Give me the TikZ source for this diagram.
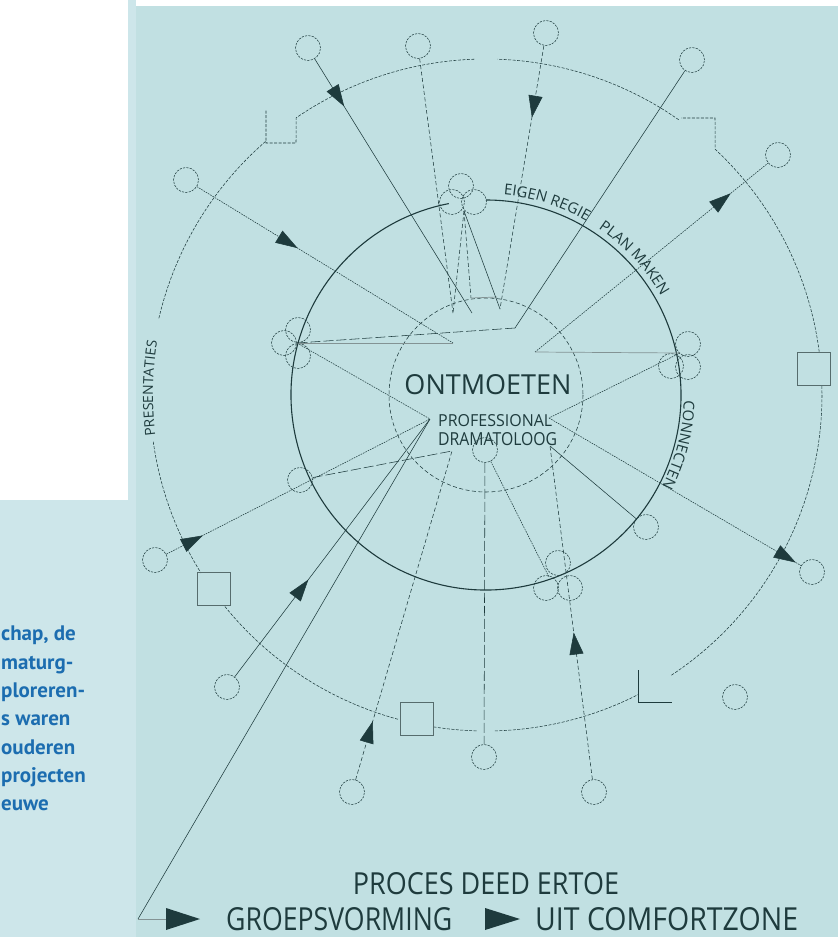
\documentclass[tikz,border=0pt]{standalone}
\usepackage{fontspec}
\usepackage{graphicx}
\setmainfont{Open Sans}
\newfontfamily\sidefont{PT Sans}
\usetikzlibrary{calc,arrows.meta,decorations.markings,decorations.text}
\definecolor{panel}{HTML}{C1E0E2}
\definecolor{strip}{HTML}{CDE6EA}
\definecolor{ink}{HTML}{1E3B3D}
\definecolor{sideblue}{HTML}{1C6DB0}
\tikzset{
  ln/.style={draw=ink, line width=0.55pt},
  dsh/.style={ln, dash pattern=on 4pt off 2.5pt},
  dtt/.style={ln, dash pattern=on 1.6pt off 1pt},
  lds/.style={ln, dash pattern=on 10pt off 3pt},
  gry/.style={draw=ink!55, line width=0.7pt},
  sc/.style={circle, draw=ink, dash pattern=on 2.2pt off 1.2pt, line width=0.55pt, minimum size=25pt, inner sep=0pt},
  sq/.style={draw=ink!75, line width=0.6pt, minimum size=33pt, inner sep=0pt},
  fwd/.style={postaction={decorate}, decoration={markings, mark=at position #1 with {\arrow[ink]{Triangle[length=22pt,width=14pt]}}}},
  caps/.style={inner sep=0pt, text=ink}
}
\begin{document}
\begin{tikzpicture}[x=1pt,y=-1pt]
\clip (0,0) rectangle (838,937);
% background
\fill[white] (0,0) rectangle (838,937);
\fill[strip] (0,0) rectangle (136,937);
\fill[white] (0,0) rectangle (128,500);
\fill[panel] (136,6) rectangle (838,937);

% side text
\begin{scope}[every node/.style={anchor=base west, inner sep=0pt, text=sideblue, font=\sidefont\bfseries\fontsize{21}{21}\selectfont}]
\node (s1) at (1,640) {chap, de};
\node (s2) at (1,669) {maturg-};
\node (s3) at (1,697) {ploreren-};
\node (s4) at (1,725) {s waren};
\node (s5) at (1,754) {ouderen};
\node (s6) at (1,782) {projecten};
\node (s7) at (1,810) {euwe};
\end{scope}

\coordinate (c) at (486,395);

% rings
\draw[ink, line width=1.1pt] ($(c)+(-101:195)$) arc[start angle=-101, end angle=-450, radius=195];
\draw[dsh] (c) circle[radius=97];
\begin{scope}[ln, dash pattern=on 3pt off 1.5pt]
\draw ($(c)+(-7.4:336)$) arc[start angle=-7.4, end angle=-47, radius=336] -- (715,118) -- (681,118);
\draw ($(c)+(-55:336)$) arc[start angle=-55, end angle=-88, radius=336];
\draw ($(c)+(-92:336)$) arc[start angle=-92, end angle=-124.4, radius=336] -- (296,143) -- (266,143) -- (266,110);
\draw ($(c)+(-131:336)$) arc[start angle=-131, end angle=-167, radius=336];
\draw ($(c)+(-188:336)$) arc[start angle=-188, end angle=-212, radius=336];
\draw ($(c)+(-219:336)$) arc[start angle=-219, end angle=-255, radius=336];
\draw ($(c)+(-261:336)$) arc[start angle=-261, end angle=-268.5, radius=336];
\draw ($(c)+(-271.5:336)$) arc[start angle=-271.5, end angle=-297, radius=336];
\draw ($(c)+(-303.5:336)$) arc[start angle=-303.5, end angle=-361.7, radius=336];
\end{scope}
\draw[ln] (638,670) -- (638,702) -- (672,702);
\node[sq] (q1) at (813.5,368.5) {};
\node[sq] (q2) at (214,588.5) {};
\node[sq] (q3) at (416.5,719) {};

% ring labels
\path[decorate, decoration={text along path, text align=left, text={|\fontsize{15}{15}\selectfont\color{ink}|EIGEN REGIE}}]
  ($(c)+(-85:201)$) arc[start angle=-85, end angle=-50, radius=201];
\path[decorate, decoration={text along path, text align=left, text={|\fontsize{15}{15}\selectfont\color{ink}|PLAN MAKEN}}]
  ($(c)+(-56:201)$) arc[start angle=-56, end angle=-15, radius=201];
\path[decorate, decoration={text along path, text align=left, text={|\fontsize{15}{15}\selectfont\color{ink}|CONNECTEN}}]
  ($(c)+(1.5:198)$) arc[start angle=1.5, end angle=40, radius=198];
\path[decorate, decoration={text along path, text align=left, text={|\fontsize{14}{14}\selectfont\color{ink}|PRESENTATIES}}]
  ($(c)+(-187:333)$) arc[start angle=-187, end angle=-160, radius=333];

% centre text
\node[caps] (hub) at (488,385) {\resizebox{167pt}{20pt}{ONTMOETEN}};
\node[caps, anchor=west] (prof) at (438,421) {\resizebox{114pt}{12pt}{PROFESSIONAL}};
\node[caps, anchor=west] (drama) at (438,439.5) {\resizebox{119pt}{13pt}{DRAMATOLOOG}};

% small circles
\node[sc] (o1) at (308,48) {};
\node[sc] (o2) at (418,46) {};
\node[sc] (o3) at (546,33) {};
\node[sc] (o4) at (692,60) {};
\node[sc] (o5) at (778,155) {};
\node[sc] (o6) at (186,180) {};
\node[sc] (o7) at (155,560) {};
\node[sc] (o8) at (227,687) {};
\node[sc] (o9) at (352,792) {};
\node[sc] (o10) at (484,757) {};
\node[sc] (o11) at (594,792) {};
\node[sc] (o12) at (735,697) {};
\node[sc] (o13) at (812,572) {};
\node[sc] (l1) at (300,480) {};
\node[sc] (r1) at (646,527) {};
\node[sc] (i1) at (485,450) {};
\node[sc] (ta) at (461,186) {};
\node[sc] (tb) at (452,202) {};
\node[sc] (tc) at (474,202) {};
\node[sc] (la) at (298,330) {};
\node[sc] (lb) at (284,343) {};
\node[sc] (lc) at (298,356) {};
\node[sc] (ra) at (688,344) {};
\node[sc] (rb) at (671,366) {};
\node[sc] (rc) at (688,367) {};
\node[sc] (ba) at (558,563) {};
\node[sc] (bb) at (546,588) {};
\node[sc] (bc) at (570,588) {};

% meeting points
\coordinate (tk) at (464,211);
\coordinate (t1) at (472,313);
\coordinate (t2) at (453,313);
\coordinate (t3) at (500,309);
\coordinate (t4) at (471,298);
\coordinate (t4r) at (497,297);
\coordinate (t5) at (515,328);
\coordinate (lk) at (297,343);
\coordinate (t6) at (453,343);
\coordinate (t7) at (535,352);
\coordinate (rk) at (680,353);
\coordinate (t8) at (549,418);
\coordinate (t9) at (550,446);
\coordinate (pa) at (430,419);
\coordinate (pb) at (452,451);
\coordinate (bk) at (549,577);
\coordinate (lg) at (138,919);

% connectors
\draw[ln, fwd=56pt] (o1) -- (t1);
\draw[dsh] (o2) -- (t2);
\draw[dsh, fwd=73pt] (o3) -- (t3);
\draw[dsh] (tk) -- (t2);
\draw[dsh] (tk) -- (t4);
\draw[gry] (t4) -- (t4r);
\draw[ln] (tk) -- (t3);
\draw[ln] (o4) -- (t5);
\draw[lds] (t5) -- (lk);
\draw[dtt, fwd=118pt] (o6) -- (t6);
\draw[gry] (lk) -- (t6);
\draw[dtt, fwd=252pt] (t7) -- (o5);
\draw[gry] (t7) -- (rk);
\draw[dtt] (rk) -- (t8);
\draw[dtt, fwd=286pt] (t8) -- (o13);
\draw[ln] (t9) -- (r1);
\draw[dsh, fwd=148pt] (o11) -- (t9);
\draw[dtt] (lk) -- (pa);
\draw[dtt, fwd=41pt] (o7) -- (pa);
\draw[ln, fwd=122pt] (o8) -- (pa);
\draw[ln] (pa) -- (lg);
\draw[lds] (l1) -- (pb);
\draw[dsh, fwd=61pt] (o9) -- (pb);
\draw[lds] (i1) -- (o10);
\draw[dtt] (i1) -- (bk);

% legend
\node[caps] (proc) at (486,884) {\resizebox{266pt}{22pt}{PROCES DEED ERTOE}};
\node[caps, anchor=west] (groep) at (226,919) {\resizebox{226pt}{23pt}{GROEPSVORMING}};
\node[caps, anchor=west] (uit) at (535,919) {\resizebox{263pt}{23pt}{UIT COMFORTZONE}};
\coordinate (k1) at (166,919);
\draw[gry] (lg) -- (k1);
\fill[ink] (166,908) -- (200,919) -- (166,930) -- cycle;
\fill[ink] (485,908) -- (520,919) -- (485,930) -- cycle;
\end{tikzpicture}
\end{document}
